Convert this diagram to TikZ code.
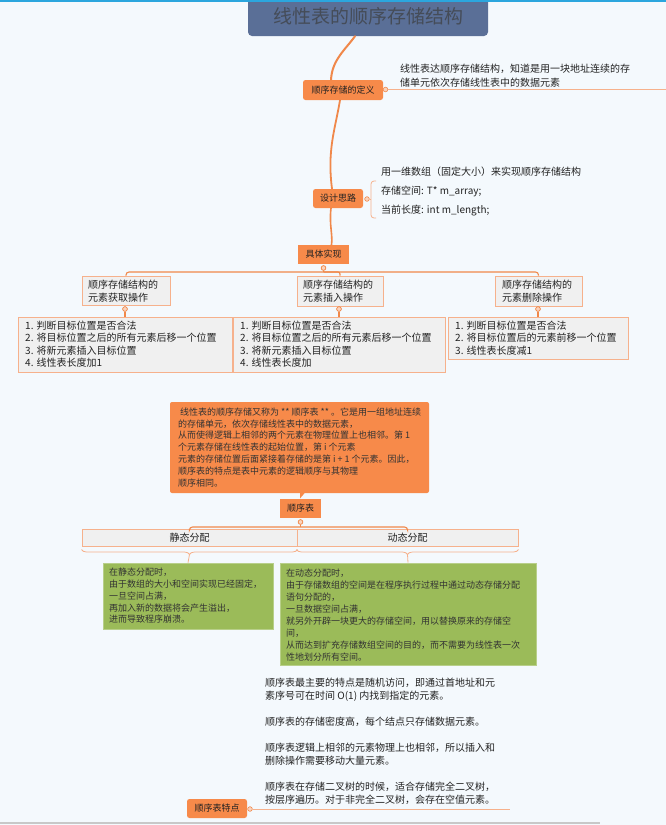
\documentclass[tikz,border=0pt]{standalone}
\usepackage{fontspec}
\setmainfont{Noto Sans CJK SC}
\usetikzlibrary{decorations.pathreplacing}
\definecolor{bg}{HTML}{F4F9FD}
\definecolor{topline}{HTML}{2BA6DE}
\definecolor{titlefill}{HTML}{5A6F97}
\definecolor{titletxt}{HTML}{454C58}
\definecolor{orfill}{HTML}{F78A4A}
\definecolor{orline}{HTML}{F0884A}
\definecolor{lightor}{HTML}{F6B18C}
\definecolor{grayfill}{HTML}{F0F0F0}
\definecolor{greenfill}{HTML}{9BBB59}
\definecolor{greenedge}{HTML}{B8CF8A}
\definecolor{dotfill}{HTML}{FAD3BD}
\definecolor{txt}{HTML}{222222}
\definecolor{gtxt}{HTML}{333333}
\definecolor{botline}{HTML}{C8C8C8}
\tikzset{
  obox/.style={fill=orfill, draw=none, rounded corners=2.5, inner sep=0, text=txt, font=\fontsize{9}{11}\selectfont},
  sqbox/.style={fill=orfill, draw=none, inner sep=0, text=txt, font=\fontsize{9}{11}\selectfont},
  graybox/.style={fill=grayfill, draw=lightor, line width=1, inner sep=0},
  greenbox/.style={fill=greenfill, draw=greenedge, line width=0.6, inner sep=0},
  calloutbox/.style={fill=orfill, draw=none, rounded corners=2, inner sep=0},
  txtnode/.style={anchor=north west, inner sep=0, align=left, text=txt},
  dot/.style={circle, minimum size=4.6, inner sep=0, fill=dotfill, draw=orline, line width=0.6},
  conn/.style={draw=orline, line width=2, line cap=round},
  branch/.style={draw=orline, line width=1.1},
  lightln/.style={draw=lightor, line width=0.8},
}
\begin{document}
\begin{tikzpicture}[x=1pt,y=-1pt]
\fill[bg] (0,0) rectangle (666,825);
\useasboundingbox (0,0) rectangle (666,825);

% title
\node[fill=titlefill, rounded corners=4, minimum width=240, minimum height=40, inner sep=0,
      text=titletxt, font=\fontsize{19}{22}\selectfont] (title) at (368,16) {线性表的顺序存储结构};
\draw[topline, line width=1.6] (0,0.8) -- (666,0.8);

% main orange boxes
\node[obox, minimum width=80, minimum height=20] (def) at (343,90) {顺序存储的定义};
\node[obox, minimum width=50, minimum height=19] (design) at (338,198.5) {设计思路};
\node[sqbox, minimum width=51, minimum height=19] (impl) at (323.5,254.5) {具体实现};

% children
\node[graybox, minimum width=88, minimum height=29] (c1) at (126,290.5) {};
\node[graybox, minimum width=86, minimum height=30] (c2) at (340,291) {};
\node[graybox, minimum width=87, minimum height=30] (c3) at (538.5,291) {};
\node[graybox, minimum width=214, minimum height=55] (l1) at (125,344.5) {};
\node[graybox, minimum width=212, minimum height=55] (l2) at (339,344.5) {};
\node[graybox, minimum width=180, minimum height=42] (l3) at (538,338) {};

% callout and seq table
\node[calloutbox, minimum width=259, minimum height=91] (callout) at (299.5,447.5) {};
\coordinate (pa) at (300,492);
\coordinate (pb) at (300,498.5);
\coordinate (pc) at (305.5,492);
\fill[orfill] (pa) -- (pb) -- (pc) -- cycle;
\node[sqbox, minimum width=41, minimum height=19] (seq) at (300.5,508.5) {顺序表};

\node[graybox, minimum width=215, minimum height=17, font=\fontsize{10}{12}\selectfont, text=txt] (s1) at (189.5,537.5) {静态分配};
\node[graybox, minimum width=221, minimum height=17, font=\fontsize{10}{12}\selectfont, text=txt] (s2) at (407.5,537.5) {动态分配};
\node[greenbox, minimum width=170, minimum height=66] (g1) at (188,596) {};
\node[greenbox, minimum width=256, minimum height=102] (g2) at (408,614) {};

\node[obox, minimum width=60, minimum height=19] (feat) at (217,808.5) {顺序表特点};

% dots
\node[dot] (k1) at (385.5,89.5) {};
\node[dot] (k2) at (367,199) {};
\node[dot] (k3) at (323.5,268) {};
\node[dot] (k4) at (125,309) {};
\node[dot] (k5) at (339,309) {};
\node[dot] (k6) at (538,309) {};
\node[dot] (k7) at (300.5,522) {};
\node[dot] (k8) at (250,809) {};

% connectors (main spine)
\draw[conn] ([xshift=-13pt]title.south) .. controls (345,50) and (332,60) .. ([xshift=-12pt]def.north);
\draw[conn, line width=1.8] ([xshift=-3pt]def.south) .. controls (335,130) and (327,150) .. ([xshift=-6pt]design.north);
\draw[conn, line width=1.6] ([xshift=-7pt]design.south) .. controls (329,225) and (333,235) .. ([xshift=8pt]impl.north);

% definition line
\coordinate (defend) at (666,89.5);
\draw[lightln] (k1.east) -- (defend);

% design bracket
\coordinate (b1) at (376,181);
\coordinate (b2) at (371,218);
\coordinate (b3) at (376,218);
\coordinate (bm) at (371,199);
\draw[lightln, rounded corners=3] (b1) -| (b2) -- (b3);
\draw[lightln] (k2.east) -- (bm);

% impl branches
\coordinate (j1) at (323.5,272);
\draw[branch] (k3) -- (j1);
\draw[branch, rounded corners=3] (c1.north) |- (j1) -| (c3.north);
\draw[branch, rounded corners=2] (j1) -| (c2.north);
\draw[branch] (k4) -- (l1.north);
\draw[branch] (k5) -- (l2.north);
\draw[branch] (k6) -- (l3.north);
\node[dot] at (k3) {};
\node[dot] at (k4) {};
\node[dot] at (k5) {};
\node[dot] at (k6) {};

% seq table branches
\coordinate (j2) at (300.5,527);
\draw[branch] (k7) -- (j2);
\draw[branch, rounded corners=3] (s1.north) |- (j2) -| (s2.north);
\node[dot] at (k7) {};
\draw[lightln, decorate, decoration={brace, mirror, amplitude=5}] ([yshift=-3pt]s1.south west) -- ([yshift=-3pt]s1.south east);
\draw[lightln, decorate, decoration={brace, mirror, amplitude=5}] ([yshift=-3pt]s2.south west) -- ([yshift=-3pt]s2.south east);
\coordinate (t1) at ([yshift=-8pt]s1.south);
\coordinate (t2) at ([yshift=-8pt]s2.south);
\draw[lightln] (t1) -- (g1.north);
\draw[lightln] (t2) -- (g2.north);

% feature line
\coordinate (featend) at (510,809);
\draw[lightln] (k8.east) -- (featend);
\coordinate (gl1) at (0,823);
\coordinate (gl2) at (600,823);
\draw[botline, line width=1.6] (gl1) -- (gl2);

% texts
\node[txtnode, font=\fontsize{10}{14}\selectfont] (deftext) at (400,63.4)
  {线性表达顺序存储结构，知道是用一块地址连续的存\\储单元依次存储线性表中的数据元素};
\node[txtnode, font=\fontsize{10}{19}\selectfont] (designtext) at (381,166.4)
  {用一维数组（固定大小）来实现顺序存储结构\\存储空间: T* m\_array;\\当前长度: int m\_length;};
\node[txtnode, font=\fontsize{10}{13}\selectfont] (c1t) at (88,279.4) {顺序存储结构的\\元素获取操作};
\node[txtnode, font=\fontsize{10}{13}\selectfont] (c2t) at (303,279.4) {顺序存储结构的\\元素插入操作};
\node[txtnode, font=\fontsize{10}{13}\selectfont] (c3t) at (502,279.4) {顺序存储结构的\\元素删除操作};
\node[txtnode, font=\fontsize{10}{12.6}\selectfont] (l1t) at (25,320.4)
  {1. 判断目标位置是否合法\\2. 将目标位置之后的所有元素后移一个位置\\3. 将新元素插入目标位置\\4. 线性表长度加1};
\node[txtnode, font=\fontsize{10}{12.6}\selectfont] (l2t) at (240,320.4)
  {1. 判断目标位置是否合法\\2. 将目标位置之后的所有元素后移一个位置\\3. 将新元素插入目标位置\\4. 线性表长度加};
\node[txtnode, font=\fontsize{10}{12.6}\selectfont] (l3t) at (455,320.4)
  {1. 判断目标位置是否合法\\2. 将目标位置后的元素前移一个位置\\3. 线性表长度减1};
\node[txtnode, text=gtxt, font=\fontsize{9}{11.8}\selectfont] (callt) at (178,407.4)
  {\hspace{2pt}线性表的顺序存储又称为 ** 顺序表 ** 。它是用一组地址连续\\的存储单元，依次存储线性表中的数据元素，\\从而使得逻辑上相邻的两个元素在物理位置上也相邻。第 1\\个元素存储在线性表的起始位置，第 i 个元素\\元素的存储位置后面紧接着存储的是第 i + 1 个元素。因此，\\顺序表的特点是表中元素的逻辑顺序与其物理\\顺序相同。};
\node[txtnode, text=gtxt, font=\fontsize{9}{11.8}\selectfont] (g1t) at (109,567.9)
  {在静态分配时，\\由于数组的大小和空间实现已经固定，\\一旦空间占满，\\再加入新的数据将会产生溢出，\\进而导致程序崩溃。};
\node[txtnode, text=gtxt, font=\fontsize{9}{11.9}\selectfont] (g2t) at (286,568.9)
  {在动态分配时，\\由于存储数组的空间是在程序执行过程中通过动态存储分配\\语句分配的，\\一旦数据空间占满，\\就另外开辟一块更大的存储空间，用以替换原来的存储空\\间，\\从而达到扩充存储数组空间的目的，而不需要为线性表一次\\性地划分所有空间。};
\node[txtnode, font=\fontsize{10}{13}\selectfont] (featt) at (265,677.4)
  {顺序表最主要的特点是随机访问，即通过首地址和元\\素序号可在时间 O(1) 内找到指定的元素。\\[13pt]顺序表的存储密度高，每个结点只存储数据元素。\\[13pt]顺序表逻辑上相邻的元素物理上也相邻，所以插入和\\删除操作需要移动大量元素。\\[13pt]顺序表在存储二叉树的时候，适合存储完全二叉树，\\按层序遍历。对于非完全二叉树，会存在空值元素。};
\end{tikzpicture}
\end{document}
